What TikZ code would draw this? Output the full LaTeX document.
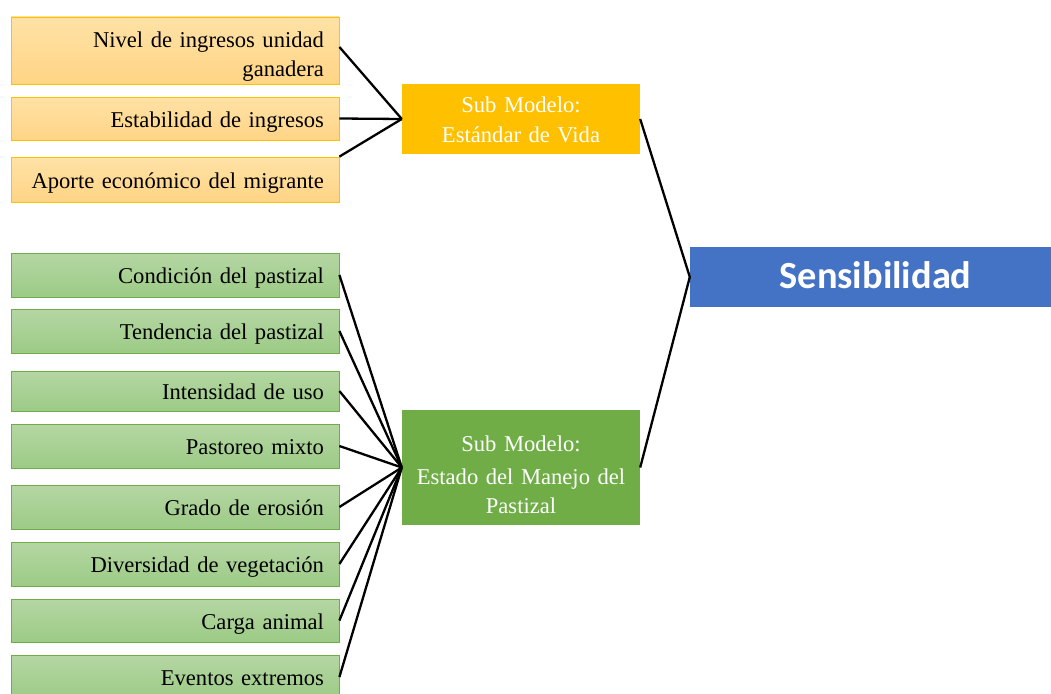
\documentclass[tikz,border=0pt]{standalone}
\usepackage{fontspec}
\setmainfont{Liberation Serif}
\newfontfamily\sensfont{Carlito}
\usetikzlibrary{calc}
\definecolor{orA}{HTML}{FFE2A6}
\definecolor{orB}{HTML}{FFD485}
\definecolor{orE}{HTML}{FFC000}
\definecolor{grA}{HTML}{B5D6A3}
\definecolor{grB}{HTML}{9CCB86}
\definecolor{grE}{HTML}{70AD47}
\definecolor{blu}{HTML}{4472C4}
\tikzset{
  leafbox/.style={minimum width=328pt, text width=298pt, inner xsep=15pt, inner ysep=0pt,
    align=right, font=\fontsize{22.6}{28.5}\selectfont, line width=0.8pt,
    text height=17pt, text depth=0pt},
  orbox/.style={leafbox, draw=orE, top color=orA, bottom color=orB},
  grbox/.style={leafbox, draw=grE, top color=grA, bottom color=grB},
  subbox/.style={minimum width=238pt, text width=230pt, inner sep=0pt, align=center,
    text=white, font=\fontsize{22.6}{29.3}\selectfont},
  link/.style={line width=2.3pt, black}
}
\begin{document}
\begin{tikzpicture}[x=1pt,y=-1pt]
\useasboundingbox (0,0) rectangle (1051,693);
% orange leaves
\node[orbox, minimum height=67pt, text height=12pt, text depth=17pt] (o1) at (175,50.5) {Nivel de ingresos unidad\\ganadera};
\node[orbox, minimum height=43pt] (o2) at (175,118.5) {Estabilidad de ingresos};
\node[orbox, minimum height=45pt] (o3) at (175,179.5) {Aporte económico del migrante};
% green leaves
\node[grbox, minimum height=44pt] (g1) at (175,275) {Condición del pastizal};
\node[grbox, minimum height=44pt] (g2) at (175,331) {Tendencia del pastizal};
\node[grbox, minimum height=40pt] (g3) at (175,391) {Intensidad de uso};
\node[grbox, minimum height=44pt] (g4) at (175,446) {Pastoreo mixto};
\node[grbox, minimum height=44pt] (g5) at (175,507) {Grado de erosión};
\node[grbox, minimum height=44pt] (g6) at (175,564) {Diversidad de vegetación};
\node[grbox, minimum height=43pt] (g7) at (175,620.5) {Carga animal};
\node[grbox, minimum height=44pt] (g8) at (175,677) {Eventos extremos};
% sub models
\node[subbox, fill=orE, minimum height=70pt, text height=15pt, text depth=27.6pt] (est) at (521,119) {Sub Modelo:\\Estándar de Vida};
\node[subbox, fill=grE, minimum height=115pt, text height=15pt, text depth=47pt] (edo) at (521,467.5) {Sub Modelo:\\[3.5pt]Estado del Manejo del\\Pastizal};
% main
\node[fill=blu, minimum width=371pt, minimum height=60pt, inner sep=0pt, text=white,
  text height=23pt, text depth=0pt,
  font=\sensfont\bfseries\fontsize{38.4}{46}\selectfont] (sens) at (875.5,277) {Sensibilidad};
% connectors
\draw[link] ($(o1.east)+(0,-3.5)$) -- (est.west);
\draw[link] (o2.east) -- (est.west);
\draw[link] (o3.north east) -- (est.west);
\foreach \g in {g1,g2,g3,g4,g5,g6,g7,g8}{
  \draw[link] (\g.east) -- (edo.west);
}
\draw[link] (est.east) -- (sens.west);
\draw[link] (edo.east) -- (sens.west);
\end{tikzpicture}
\end{document}
